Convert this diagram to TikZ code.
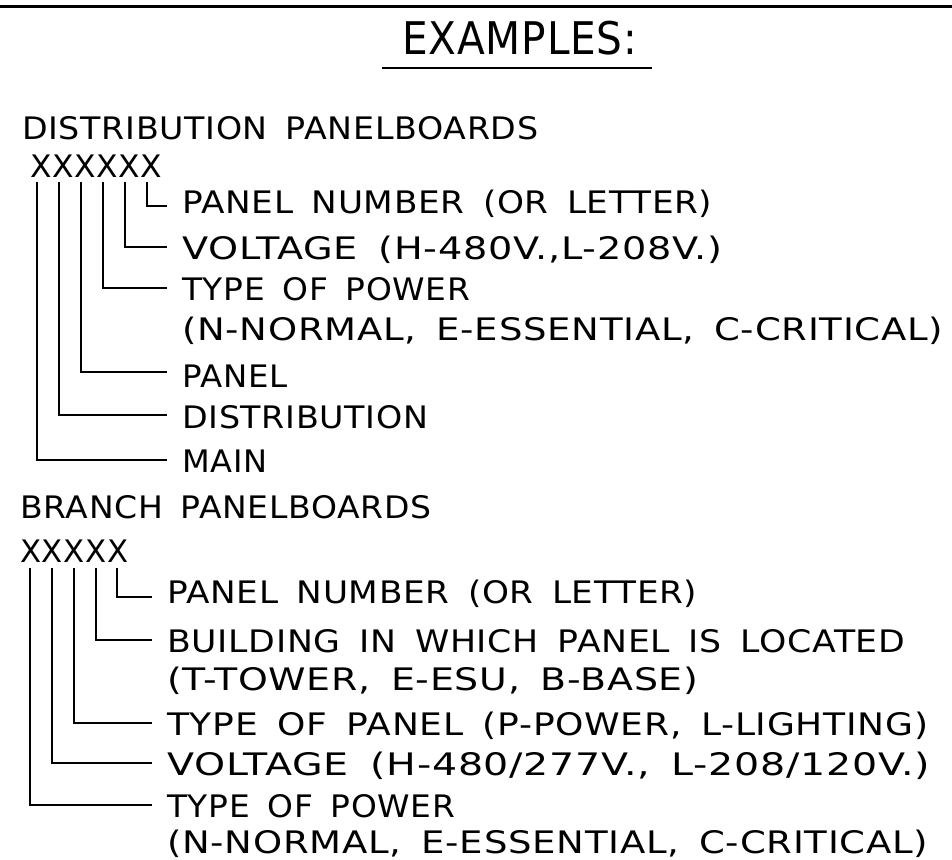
\documentclass[tikz,border=0pt]{standalone}
\usepackage{fontspec}
\setmainfont[WordSpace=1.6,LetterSpace=2]{DejaVu Sans}
\usepackage{graphicx}
\newcommand{\fitw}[2]{\resizebox{#1pt}{\height}{#2}}
\begin{document}
\begin{tikzpicture}[x=1pt,y=-1pt,
  lbl/.style={anchor=base west, inner sep=0pt, font=\fontsize{31}{31}\selectfont},
  ttl/.style={anchor=base west, inner sep=0pt, font=\fontsize{45}{45}\selectfont},
  wire/.style={line width=1.8pt, line cap=butt, line join=miter}]
\useasboundingbox (0,0) rectangle (952,859);
% top rule and title
\coordinate (rl) at (0,6.5);
\coordinate (rr) at (952,6.5);
\draw[line width=3.5pt] (rl) -- (rr);
\node[ttl] (title) at (402,55) {\fitw{235}{EXAMPLES:}};
\coordinate (ul) at (382,68);
\coordinate (ur) at (652,68);
\draw[line width=2.5pt] (ul) -- (ur);

% ---------- distribution panelboards ----------
\node[lbl] (t0) at (22,139) {\fitw{516}{DISTRIBUTION PANELBOARDS}};
\node[lbl] (x1) at (30,177) {\fitw{132}{XXXXXX}};
\node[lbl] (a1) at (182,213) {\fitw{530}{PANEL NUMBER (OR LETTER)}};
\node[lbl] (a2) at (182,259) {\fitw{540}{VOLTAGE (H-480V.,L-208V.)}};
\node[lbl] (a3) at (182,300) {\fitw{288}{TYPE OF POWER}};
\node[lbl] (a4) at (182,340) {\fitw{761}{(N-NORMAL, E-ESSENTIAL, C-CRITICAL)}};
\node[lbl] (a5) at (182,387) {\fitw{105}{PANEL}};
\node[lbl] (a6) at (182,428) {\fitw{246}{DISTRIBUTION}};
\node[lbl] (a7) at (182,472) {\fitw{85}{MAIN}};

\foreach \n/\x/\y in {1/147/206, 2/125/247, 3/103/288, 4/81/372, 5/59/415, 6/37/460}{
  \coordinate (ds\n) at (\x,182);
  \coordinate (de\n) at (167,\y);
  \draw[wire] (ds\n) |- (de\n);
}

% ---------- branch panelboards ----------
\node[lbl] (b0) at (20,518) {\fitw{411}{BRANCH PANELBOARDS}};
\node[lbl] (x2) at (20,562) {\fitw{108}{XXXXX}};
\node[lbl] (b1) at (167,603) {\fitw{530}{PANEL NUMBER (OR LETTER)}};
\node[lbl] (b2) at (167,652) {\fitw{738}{BUILDING IN WHICH PANEL IS LOCATED}};
\node[lbl] (b3) at (167,690) {\fitw{531}{(T-TOWER, E-ESU, B-BASE)}};
\node[lbl] (b4) at (167,735) {\fitw{761}{TYPE OF PANEL (P-POWER, L-LIGHTING)}};
\node[lbl] (b5) at (167,775) {\fitw{763}{VOLTAGE (H-480/277V., L-208/120V.)}};
\node[lbl] (b6) at (167,817) {\fitw{288}{TYPE OF POWER}};
\node[lbl] (b7) at (167,853) {\fitw{761}{(N-NORMAL, E-ESSENTIAL, C-CRITICAL)}};

\foreach \n/\x/\y in {1/117/597, 2/96/640, 3/74/723, 4/52/763, 5/30/805}{
  \coordinate (bs\n) at (\x,568);
  \coordinate (be\n) at (152,\y);
  \draw[wire] (bs\n) |- (be\n);
}
\end{tikzpicture}
\end{document}
